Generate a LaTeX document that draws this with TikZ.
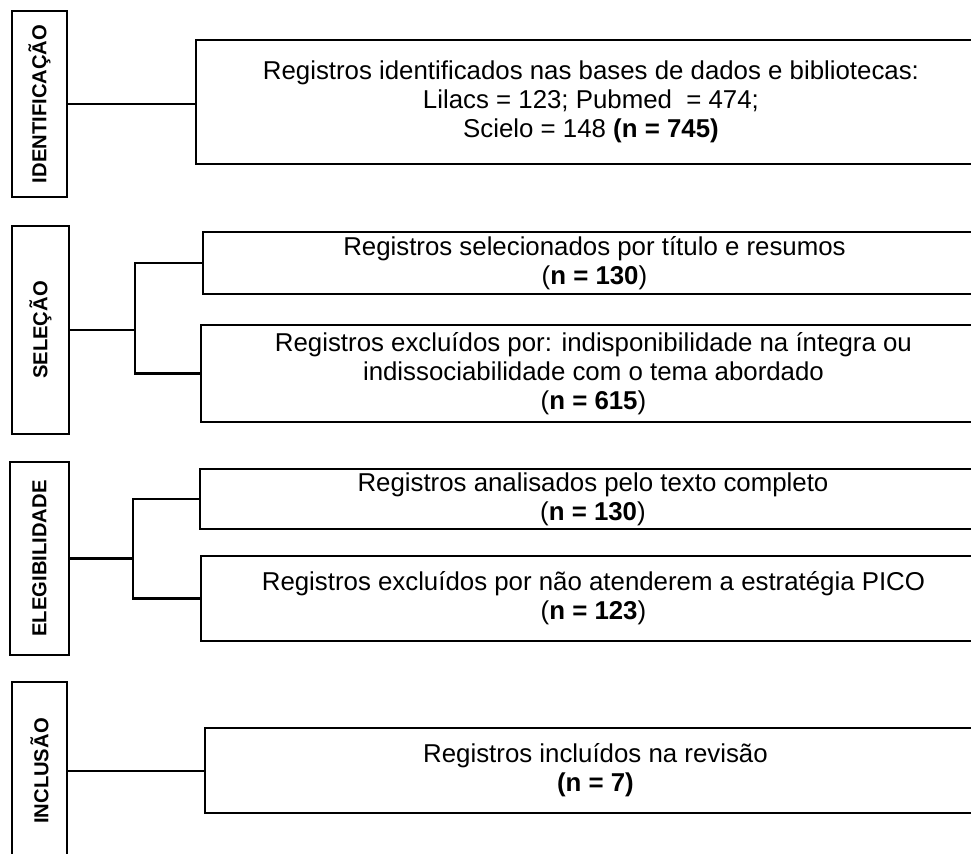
\documentclass[tikz,border=0pt]{standalone}
\usepackage{fontspec}
\setmainfont{Liberation Sans}
\begin{document}
\begin{tikzpicture}[x=0.02cm, y=-0.02cm, line width=1.2pt,
    fase/.style={draw, rotate=90, inner sep=0pt, font=\fontsize{11.5}{13}\selectfont\bfseries},
    caixa/.style={draw, anchor=west, align=center, inner sep=0pt, font=\fontsize{14.7}{16.4}\selectfont}]
    \clip (0,0) rectangle (971,854);
    % fases
    \node[fase, minimum width=3.72cm, minimum height=1.1cm] (ident) at (39.5,104) {IDENTIFICAÇÃO};
    \node[fase, minimum width=4.16cm, minimum height=1.14cm] (sel) at (40.5,330) {SELEÇÃO};
    \node[fase, minimum width=3.86cm, minimum height=1.18cm] (eleg) at (39.5,558.5) {ELEGIBILIDADE};
    \node[fase, minimum width=3.56cm, minimum height=1.1cm] (incl) at (39.5,771) {INCLUSÃO};
    % caixas
    \node[caixa, minimum width=15.8cm, minimum height=2.48cm] (ident1) at (195,102)
        {Registros identificados nas bases de dados e bibliotecas:\\
         Lilacs = 123; Pubmed\ \ = 474;\\
         Scielo = 148 \textbf{(n = 745)}};
    \node[caixa, minimum width=15.66cm, minimum height=1.24cm] (sel1) at (202,263)
        {Registros selecionados por título e resumos\\(\textbf{n = 130})};
    \node[caixa, minimum width=15.7cm, minimum height=1.94cm] (sel2) at (200,373.5)
        {Registros excluídos por: indisponibilidade na íntegra ou\\
         indissociabilidade com o tema abordado\\(\textbf{n = 615})};
    \node[caixa, minimum width=15.72cm, minimum height=1.2cm] (eleg1) at (199,499)
        {Registros analisados pelo texto completo\\(\textbf{n = 130})};
    \node[caixa, minimum width=15.7cm, minimum height=1.7cm] (eleg2) at (200,598.5)
        {Registros excluídos por não atenderem a estratégia PICO\\(\textbf{n = 123})};
    \node[caixa, minimum width=15.62cm, minimum height=1.7cm] (incl1) at (204,770.5)
        {Registros incluídos na revisão\\\textbf{(n = 7)}};
    % ligacoes
    \coordinate (jsel) at (135,330);
    \coordinate (jeleg) at (133,558.5);
    \draw (ident.south) -- (ident.south -| ident1.west);
    \draw (sel.south) -- (jsel);
    \draw (sel1.west) -| (jsel) |- (sel2.west);
    \draw (eleg.south) -- (jeleg);
    \draw (eleg1.west) -| (jeleg) |- (eleg2.west);
    \draw (incl.south) -- (incl.south -| incl1.west);
\end{tikzpicture}
\end{document}
